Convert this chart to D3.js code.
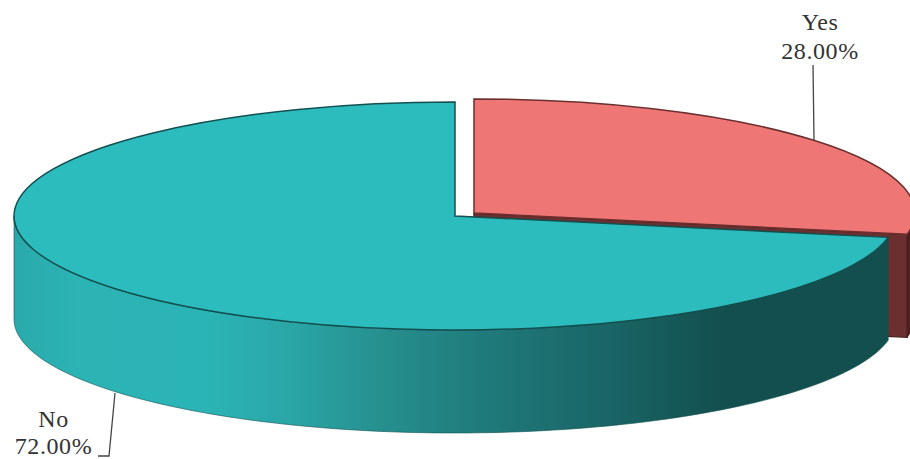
<!DOCTYPE html>
<html><head><meta charset="utf-8">
<script src="https://cdn.jsdelivr.net/npm/d3@7"></script>
<style>html,body{margin:0;padding:0;background:#fff}svg{display:block}</style>
</head><body><div id="chart"></div>
<script>
const categories = ["Yes", "No"];
const values = [28, 72];
const topColors = ["#ee7675", "#2cbcbd"];
const faceColors = ["#6b2f2f", "#134f4f"];
const outerColors = ["#4a1f1f", "#134f4f"];

const W = 910, H = 459;
const rx = 441, ry = 114, depth = 103;
const centers = [[474, 213], [455, 216]];

const svg = d3.select("#chart").append("svg").attr("width", W).attr("height", H);
const pie = d3.pie().sort(null).value(d => d)(values);
const arc = d3.arc().innerRadius(0).outerRadius(rx);

const defs = svg.append("defs");
const grad = defs.append("linearGradient").attr("id", "tealWall")
  .attr("gradientUnits", "userSpaceOnUse").attr("x1", 14).attr("x2", 888).attr("y1", 0).attr("y2", 0);
[[0, "#2aa9aa"], [0.08, "#2cb4b5"], [0.22, "#2bb4b5"], [0.32, "#2aa5a6"], [0.42, "#26908f"],
 [0.55, "#1f7879"], [0.68, "#1a6566"], [0.81, "#134f4f"], [1, "#134f4f"]]
  .forEach(([o, c]) => grad.append("stop").attr("offset", o).attr("stop-color", c));

const px = (c, a) => c[0] + rx * Math.sin(a);
const py = (c, a) => c[1] - ry * Math.cos(a);

function wallPath(c, a0, a1) {
  const n = 120, angles = d3.range(n + 1).map(i => a0 + (a1 - a0) * i / n);
  return d3.area().x(a => px(c, a)).y0(a => py(c, a)).y1(a => py(c, a) + depth)(angles);
}
function cutFace(c, a) {
  const p = d3.path();
  p.moveTo(c[0], c[1]);
  p.lineTo(px(c, a), py(c, a));
  p.lineTo(px(c, a), py(c, a) + depth);
  p.lineTo(c[0], c[1] + depth);
  p.closePath();
  return p.toString();
}

// Yes slice
const y = pie[0], yc = centers[0];
svg.append("path").attr("d", wallPath(yc, Math.PI / 2, y.endAngle))
  .attr("fill", outerColors[0]).attr("stroke", outerColors[0]);
svg.append("path").attr("d", cutFace(yc, y.endAngle))
  .attr("fill", faceColors[0]).attr("stroke", "#4a1f1f").attr("stroke-width", 1.4);

// No slice wall
const n = pie[1], nc = centers[1];
svg.append("path").attr("d", wallPath(nc, n.startAngle, Math.PI * 1.5))
  .attr("fill", "url(#tealWall)").attr("stroke", "#134f4f").attr("stroke-width", 0.6);

// Tops
pie.forEach((d, i) => {
  svg.append("path")
    .attr("transform", `translate(${centers[i][0]},${centers[i][1]}) scale(1,${ry / rx})`)
    .attr("d", arc(d))
    .attr("fill", topColors[i])
    .attr("stroke", i === 0 ? "#6b2f2f" : "#134f4f")
    .attr("stroke-width", 1.5)
    .style("vector-effect", "non-scaling-stroke");
});

// Leaders
const leader = d3.line().x(d => d[0]).y(d => d[1]);
svg.append("path").attr("d", leader([[813, 65], [814, 140]]))
  .attr("fill", "none").attr("stroke", "#444").attr("stroke-width", 1.3);
svg.append("path").attr("d", leader([[115, 393], [109, 456], [98, 456]]))
  .attr("fill", "none").attr("stroke", "#444").attr("stroke-width", 1.3);

// Labels
const fmt = d3.format(".2f");
const labels = [{x: 820, y1: 30, y2: 59}, {x: 53.5, y1: 427, y2: 453.5}];
labels.forEach((l, i) => {
  const t = svg.append("text").attr("text-anchor", "middle")
    .attr("font-family", "'Liberation Serif', serif").attr("font-size", 24)
    .attr("letter-spacing", 0.6).attr("fill", "#333");
  t.append("tspan").attr("x", l.x).attr("y", l.y1).text(categories[i]);
  t.append("tspan").attr("x", l.x).attr("y", l.y2).text(fmt(values[i]) + "%");
});
</script></body></html>
